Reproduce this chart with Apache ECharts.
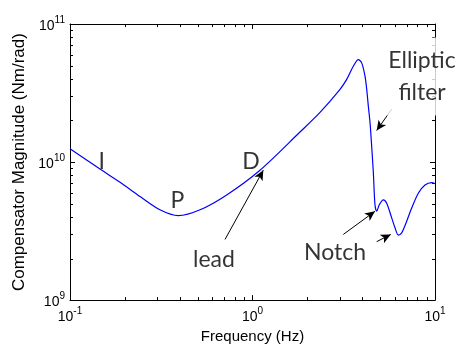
<!DOCTYPE html>
<html>
<head>
<meta charset="utf-8">
<script src="https://cdn.jsdelivr.net/npm/echarts@6/dist/echarts.min.js"></script>
<style>html,body{margin:0;padding:0;background:#fff;}#c{width:460px;height:349px;}</style>
</head>
<body>
<div id="c"></div>
<script>
// Frequency (Hz) and compensator magnitude (Nm/rad)
var freq = [0.1, 0.146, 0.188, 0.242, 0.311, 0.392, 0.516, 0.722, 1.099, 1.82, 2.344, 3.017, 3.282, 3.567, 3.80, 3.966, 4.135, 4.225, 4.311, 4.404, 4.46, 4.591, 4.69, 4.792, 4.952, 5.208, 5.436, 5.789, 6.036, 6.293, 6.569, 6.998, 7.451, 8.1, 8.814, 9.59, 10];
var magnitude = [1.25e10, 8.89e9, 7.13e9, 5.63e9, 4.51e9, 4.09e9, 4.51e9, 5.78e9, 8.73e9, 1.65e10, 2.29e10, 3.36e10, 3.97e10, 4.94e10, 5.52e10, 5.23e10, 4.19e10, 3.36e10, 2.55e10, 1.94e10, 1.54e10, 8.51e9, 4.90e9, 4.40e9, 4.90e9, 5.32e9, 5.04e9, 3.94e9, 3.34e9, 2.96e9, 3.07e9, 3.73e9, 4.64e9, 5.95e9, 6.82e9, 7.10e9, 6.96e9];

// axis ranges and ticks
var xRange = [0.1, 10];
var yRange = [1e9, 1e11];
var xDecades = [0.1, 1];
var yDecades = [1e9, 1e10];
var minorMultipliers = [2, 3, 4, 5, 6, 7, 8, 9];

// annotations
var noteText = ['I', 'P', 'D', 'lead', 'Notch'];
var noteFreq = [0.149, 0.388, 0.981, 0.615, 2.83];
var noteMag = [1.008e10, 5.30e9, 1.008e10, 1.95e9, 2.21e9];
var filterText = 'Elliptic\nfilter';
var filterFreq = 8.49;
var filterMag = 4.16e10;

// arrows: [fromFreq, fromMag, toFreq, toMag]
var arrows = [
  [0.707, 2.75e9, 1.146, 8.73e9],
  [5.79, 2.42e10, 4.79, 1.69e10],
  [3.145, 2.99e9, 4.69, 4.40e9],
  [4.79, 2.65e9, 5.72, 2.99e9]
];

var chart = echarts.init(document.getElementById('c'), null, {renderer: 'canvas'});

var curveData = freq.map(function (f, i) { return [f, magnitude[i]]; });
var minorData = [];
xDecades.forEach(function (d) { minorMultipliers.forEach(function (m) { minorData.push([m * d, yRange[0], 0]); }); });
yDecades.forEach(function (d) { minorMultipliers.forEach(function (m) { minorData.push([xRange[0], m * d, 1]); }); });
var noteData = noteText.map(function (t, i) { return {value: [noteFreq[i], noteMag[i]], name: t}; });
var arrowData = arrows.map(function (a) { return [{coord: [a[0], a[1]]}, {coord: [a[2], a[3]]}]; });

var tickFont = 'Liberation Sans';
function powLabel(v) {
  return '{b|10}{s|' + Math.round(Math.log10(v)) + '}';
}
var richPow = {
  b: {fontSize: 14, lineHeight: 18, verticalAlign: 'bottom', fontFamily: tickFont, color: '#000'},
  s: {fontSize: 10, lineHeight: 10, verticalAlign: 'top', fontFamily: tickFont, color: '#000'}
};
var lineBlack = {color: '#000', width: 1};

var option = {
  animation: false,
  backgroundColor: '#fff',
  grid: {left: 70, top: 24, width: 365, height: 279, containLabel: false},
  xAxis: [
    {
      type: 'log', logBase: 10, min: xRange[0], max: xRange[1], position: 'bottom',
      axisLine: {show: true, onZero: false, lineStyle: lineBlack},
      axisTick: {show: true, inside: true, length: 5, lineStyle: lineBlack},
      splitLine: {show: false},
      axisLabel: {formatter: powLabel, rich: richPow, margin: 6},
      name: 'Frequency (Hz)', nameLocation: 'middle', nameGap: 19,
      nameTextStyle: {fontFamily: tickFont, fontSize: 15, color: '#000'}
    },
    {
      type: 'log', logBase: 10, min: xRange[0], max: xRange[1], position: 'top',
      axisLine: {show: true, onZero: false, lineStyle: lineBlack},
      axisTick: {show: true, inside: true, length: 5, lineStyle: lineBlack},
      splitLine: {show: false}, axisLabel: {show: false}
    }
  ],
  yAxis: [
    {
      type: 'log', logBase: 10, min: yRange[0], max: yRange[1], position: 'left',
      axisLine: {show: true, onZero: false, lineStyle: lineBlack},
      axisTick: {show: true, inside: true, length: 5, lineStyle: lineBlack},
      splitLine: {show: false},
      axisLabel: {formatter: powLabel, rich: richPow, margin: 5},
      name: 'Compensator Magnitude (Nm/rad)', nameLocation: 'middle', nameRotate: 90, nameGap: 40,
      nameTextStyle: {fontFamily: tickFont, fontSize: 17, color: '#000'}
    },
    {
      type: 'log', logBase: 10, min: yRange[0], max: yRange[1], position: 'right',
      axisLine: {show: true, onZero: false, lineStyle: lineBlack},
      axisTick: {show: true, inside: true, length: 5, lineStyle: lineBlack},
      splitLine: {show: false}, axisLabel: {show: false}
    }
  ],
  series: [
    {
      type: 'custom', xAxisIndex: 0, yAxisIndex: 0, silent: true, z: 1,
      data: minorData,
      renderItem: function (params, api) {
        var cs = params.coordSys;
        var kind = api.value(2);
        var len = 3;
        var st = {stroke: '#000', lineWidth: 1};
        if (kind === 0) {
          var px = Math.round(api.coord([api.value(0), yRange[0]])[0]) + 0.5;
          return {type: 'group', children: [
            {type: 'line', shape: {x1: px, y1: cs.y + cs.height, x2: px, y2: cs.y + cs.height - len}, style: st},
            {type: 'line', shape: {x1: px, y1: cs.y, x2: px, y2: cs.y + len}, style: st}
          ]};
        }
        var py = Math.round(api.coord([xRange[0], api.value(1)])[1]) + 0.5;
        return {type: 'group', children: [
          {type: 'line', shape: {x1: cs.x, y1: py, x2: cs.x + len, y2: py}, style: st},
          {type: 'line', shape: {x1: cs.x + cs.width, y1: py, x2: cs.x + cs.width - len, y2: py}, style: st}
        ]};
      }
    },
    {
      type: 'line', xAxisIndex: 0, yAxisIndex: 0, data: curveData,
      showSymbol: false, smooth: 0.3,
      lineStyle: {color: '#0000ff', width: 1.2}, silent: true, z: 3
    },
    {
      type: 'scatter', xAxisIndex: 0, yAxisIndex: 0, symbolSize: 0, silent: true, z: 10,
      data: noteData,
      label: {show: true, position: 'inside', formatter: '{b}', fontFamily: 'Lato', fontSize: 23, color: '#000'},
      markLine: {
        silent: true, symbol: ['none', 'arrow'], symbolSize: [7, 10], precision: 10,
        lineStyle: {color: '#000', width: 1, type: 'solid'},
        label: {show: false},
        data: arrowData
      }
    },
    {
      type: 'scatter', xAxisIndex: 0, yAxisIndex: 0, symbolSize: 0, silent: true, z: 9,
      data: [{value: [filterFreq, filterMag], name: filterText}],
      label: {show: true, position: 'inside', formatter: '{b}', fontFamily: 'Lato', fontSize: 23,
        lineHeight: 32, color: '#000', backgroundColor: '#fff', padding: [7, 4], align: 'center'}
    }
  ]
};
chart.setOption(option);
</script>
</body>
</html>
